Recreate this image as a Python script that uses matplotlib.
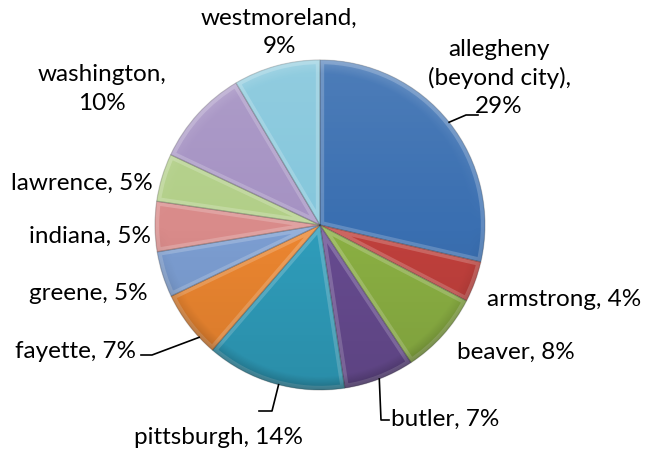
import numpy as np
import matplotlib
matplotlib.use("Agg")
from matplotlib import pyplot as plt
from matplotlib.patches import Circle, Wedge

plt.rcParams['font.family'] = ['Lato', 'DejaVu Sans']

# 各县占比（从12点方向顺时针）
counties = ["allegheny\n(beyond city)", "armstrong", "beaver", "butler", "pittsburgh",
            "fayette", "greene", "indiana", "lawrence", "washington", "westmoreland"]
shares = [28.6, 4.0, 8.1, 6.9, 13.7, 6.6, 4.5, 4.9, 4.7, 9.5, 8.5]
colors = ["#3A6FB1", "#C0403C", "#8BB043", "#674B90", "#2F9DBB", "#EC8630",
          "#7C9ED2", "#D98B8A", "#B2CF88", "#A592C3", "#85C7DC"]

W, H = 645, 456
CX, CY, R = 320, H - 226, 165

# 标签位置（像素, 以左上角为原点）
label_pos = {
    "allegheny\n(beyond city)": (499, 78, "center"),
    "armstrong": (487, 300, "left"),
    "beaver": (457, 352, "left"),
    "butler": (391, 419, "left"),
    "pittsburgh": (218, 438, "center"),
    "fayette": (136, 352, "right"),
    "greene": (148, 293, "right"),
    "indiana": (151, 236, "right"),
    "lawrence": (153, 183, "right"),
    "washington": (102, 89, "center"),
    "westmoreland": (279, 32, "center"),
}
# 引导线: (在扇区内的位置比例, 折点..., 终点)
leaders = {
    "allegheny\n(beyond city)": (0.5, [(466, 116), (478, 116)]),
    "fayette": (0.27, [(152, 356), (141, 356)]),
    "pittsburgh": (0.47, [(272, 412), (259, 412)]),
    "butler": (0.5, [(381, 421), (389, 421)]),
}

fig = plt.figure(figsize=(W / 100, H / 100), dpi=100)
ax = fig.add_axes([0, 0, 1, 1])

wedges, _ = ax.pie(shares, colors=colors, startangle=90, counterclock=False,
                   center=(CX, CY), radius=R,
                   wedgeprops=dict(edgecolor=(0, 0, 0, 0.12), linewidth=0.6))

# 斜面高光
for w in wedges:
    hl = Wedge(w.center, w.r, w.theta1, w.theta2, facecolor="none",
               edgecolor=(1, 1, 1, 0.2), linewidth=6, zorder=3)
    ax.add_patch(hl)
    hl.set_clip_path(w)
    dk = Wedge(w.center, w.r, w.theta1, w.theta2, facecolor="none",
               edgecolor=(0, 0, 0, 0.10), linewidth=1.0, zorder=4)
    ax.add_patch(dk)

# 整体渐变
n = 300
yy, xx = np.mgrid[1:-1:n * 1j, -1:1:n * 1j]
rr = np.sqrt(xx ** 2 + yy ** 2)
shade = np.zeros((n, n, 4))
top = np.clip(yy, 0, 1)
bot = np.clip(-yy, 0, 1)
rim = np.clip((rr - 0.92) / 0.08, 0, 1)
a_white = 0.10 * top + 0.15 * rim * top
a_black = 0.10 * bot + 0.22 * rim * bot
shade[..., :3] = np.where(a_white[..., None] > a_black[..., None], 1.0, 0.0)
shade[..., 3] = np.maximum(a_white, a_black)
im = ax.imshow(shade, extent=(CX - R, CX + R, CY - R, CY + R), zorder=5,
               interpolation="bilinear")
im.set_clip_path(Circle((CX, CY), R, transform=ax.transData))

# 数据标签
for w, name, v in zip(wedges, counties, shares):
    x, y, ha = label_pos[name]
    pct = int(v + 0.5)
    if "\n" in name or name in ("washington", "westmoreland"):
        txt = "%s,\n%d%%" % (name, pct)
    else:
        txt = "%s, %d%%" % (name, pct)
    ax.text(x, H - y, txt, ha=ha, va="center", fontsize=17.5, color="black",
            linespacing=1.42, multialignment="center")
    if name in leaders:
        frac, pts = leaders[name]
        ang = np.deg2rad(w.theta1 + (w.theta2 - w.theta1) * (1 - frac))
        sx, sy = CX + R * np.cos(ang), CY + R * np.sin(ang)
        xs = [sx] + [p[0] for p in pts]
        ys = [sy] + [H - p[1] for p in pts]
        ax.plot(xs, ys, color="black", linewidth=1.2, zorder=6)

ax.set_xlim(0, W)
ax.set_ylim(0, H)
ax.axis("off")
fig.savefig("out.png", dpi=100)
